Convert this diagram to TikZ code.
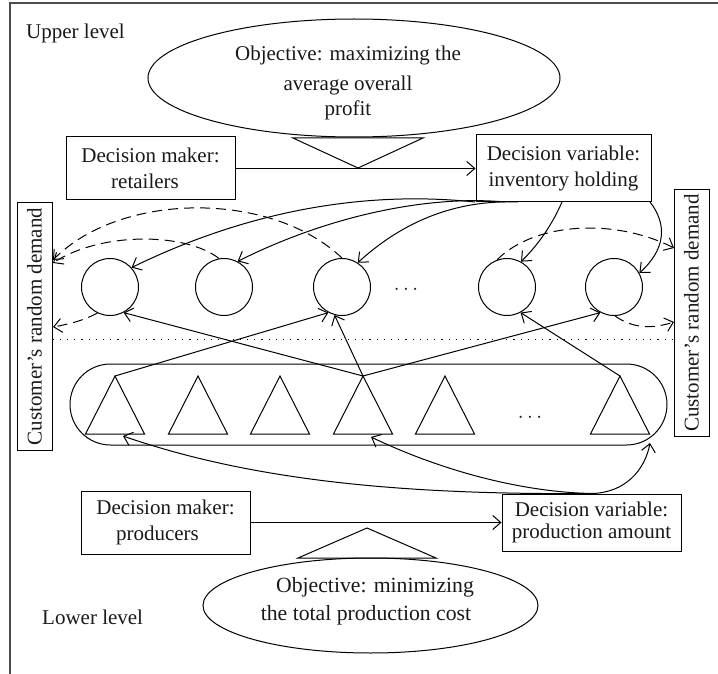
\documentclass[tikz,border=0pt]{standalone}
\usepackage{fontspec}
\setmainfont{Liberation Serif}
\usetikzlibrary{arrows.meta,shapes.geometric}
\tikzset{
  base/.style={font=\fontsize{21}{25.5}\selectfont,align=center,inner sep=0pt,text=black!90},
  boxnode/.style={base,draw,line width=1pt},
  ovalnode/.style={draw,ellipse,inner sep=0pt,line width=1pt},
  circ/.style={draw,circle,line width=1pt,minimum size=57pt,inner sep=0pt},
  link/.style={line width=1pt,-{Straight Barb[length=8pt,width=14pt,line width=1pt]}},
  dlink/.style={link,dash pattern=on 10pt off 6pt},
  tri/.style={line width=1pt,line join=miter},
  plain/.style={base}
}
\begin{document}
\begin{tikzpicture}[x=1pt,y=-1pt]
\useasboundingbox (0,0) rectangle (718,674);
\draw[line width=1.2pt,black!70] (718,3) -- (10,3) -- (10,674);

\node[plain,anchor=west] (up) at (26,33) {Upper level};
\node[plain,anchor=west] (low) at (42,617) {Lower level};

% upper level
\draw[tri] (293,138) -- (423,138) -- (358,168) -- cycle;
\node[ovalnode,minimum width=412pt,minimum height=118pt] (objU) at (354,78) {};
\node[plain] (objUtext) at (348,83) {Objective: maximizing the\\[4pt]average overall\\profit};
\node[boxnode,minimum width=169pt,minimum height=63pt] (dmU) at (150.5,168.5) {Decision maker:\\retailers\hspace*{11pt}};
\node[boxnode,minimum width=175pt,minimum height=67pt] (dvU) at (563.5,168.5) {Decision variable:\\inventory holding};
\draw[link] (dmU.east) -- (dvU.west);

% demand boxes
\node[boxnode,rotate=90,minimum width=247pt,minimum height=35pt] (demL) at (34.5,326.5) {Customer’s random demand};
\node[boxnode,rotate=90,minimum width=246pt,minimum height=35pt] (demR) at (691.5,313) {Customer’s random demand};

% retailers
\node[circ] (c1) at (110,287) {};
\node[circ] (c2) at (224,287) {};
\node[circ] (c3) at (342,287) {};
\node[circ] (c4) at (507,287) {};
\node[circ] (c5) at (614,287) {};
\node[plain] (dots1) at (406,290) {$\cdots$};

\draw[line width=1pt,dash pattern=on 1.2pt off 6pt] (demL.south |- 0,339) coordinate (dotA) -- (demR.north |- 0,339) coordinate (dotB);

% producers band
\node[draw,line width=1pt,rounded corners=40.5pt,minimum width=597pt,minimum height=81pt,inner sep=0pt] (band) at (368.5,404.5) {};
\foreach \n/\x in {t1/115,t2/198,t3/280,t4/363,t5/445,t6/620}{
  \coordinate (\n) at (\x,376);
  \draw[tri] (\n) -- ++(-29.5,58) -- ++(59,0) -- cycle;
}
\node[plain] (dots2) at (530,418) {$\cdots$};

% lower level
\draw[tri] (298,558) -- (367,528) -- (436,558) -- cycle;
\node[ovalnode,minimum width=335pt,minimum height=95pt] (objL) at (370.5,605.5) {};
\node[plain,font=\fontsize{21.7}{28}\selectfont] (objLtext) at (366,601) {\hspace*{18pt}Objective: minimizing\\the total production cost};
\node[boxnode,minimum width=169pt,minimum height=63pt] (dmL) at (165.5,522.5) {Decision maker:\\producers\hspace*{16pt}};
\node[boxnode,minimum width=179pt,minimum height=57pt] (dvL) at (591.5,522.5) {Decision variable:\\[-3pt]production amount};
\draw[link] (dmL.east) -- (dvL.west);

% decision arrows, upper
\coordinate (iA) at (475,202);
\coordinate (iB) at (505,202);
\coordinate (iC) at (518,202);
\coordinate (iD) at (562,202);
\coordinate (iE) at (650,202);
\draw[link] (iA) .. controls (390,193) and (270,200) .. (c1.42);
\draw[link] (iB) .. controls (430,195) and (330,215) .. (c2.62);
\draw[link] (iC) .. controls (465,200) and (410,215) .. (c3.57);
\draw[link] (iD) .. controls (552,225) and (538,245) .. (c4.61);
\draw[link] (iE) .. controls (668,225) and (665,250) .. (c5.29);

% demand arrows
\coordinate (lA) at (53,263);
\coordinate (lB) at (53,260);
\coordinate (lC) at (53,327);
\coordinate (rA) at (674,248);
\coordinate (rB) at (674,322);
\draw[dlink] (c2.100) .. controls (185,232) and (100,232) .. (lA);
\draw[dlink] (c3.90) .. controls (270,190) and (120,192) .. (lB);
\draw[dlink] (c1.244) .. controls (85,320) and (70,324) .. (lC);
\draw[dlink] (c4.110) .. controls (535,222) and (615,218) .. (rA);
\draw[dlink] (c5.-88) .. controls (635,330) and (655,328) .. (rB);

% producers to retailers
\draw[link] (t4) -- (c1.-62);
\draw[link] (t1) -- (c3.-118);
\draw[link] (t4) -- (c3.-105);
\draw[link] (t4) -- (c5.-118);
\draw[link] (t6) -- (c4.-62);

% decision arrows, lower
\coordinate (tipA) at (650,443);
\coordinate (tipB) at (371,437);
\coordinate (tipC) at (123,436);
\draw[link] (dvL.north) .. controls (625,493) and (645,470) .. (tipA);
\draw[link] (dvL.north) .. controls (520,492) and (440,470) .. (tipB);
\draw[link] (dvL.north) .. controls (400,495) and (250,480) .. (tipC);
\end{tikzpicture}
\end{document}
